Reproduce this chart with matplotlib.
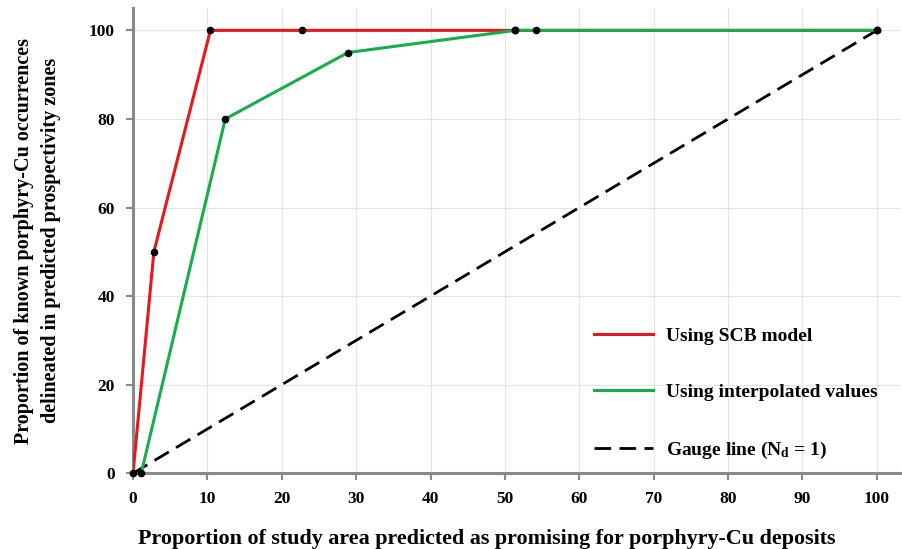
import numpy as np
import matplotlib
matplotlib.use('Agg')
import matplotlib.pyplot as plt

plt.rcParams['font.family'] = ['Liberation Serif', 'DejaVu Serif']
plt.rcParams['font.weight'] = 'bold'
plt.rcParams['mathtext.fontset'] = 'custom'
plt.rcParams['mathtext.rm'] = 'Liberation Serif:bold'
plt.rcParams['mathtext.default'] = 'rm'

# data
scb_x = [0, 2.8, 10.4, 22.7, 51.4, 54.2, 100]
scb_y = [0, 50, 100, 100, 100, 100, 100]
interp_x = [1.1, 12.4, 28.9, 51.4, 100]
interp_y = [0, 80, 95, 100, 100]
gauge_x = [0, 100]
gauge_y = [0, 100]

fig = plt.figure(figsize=(9.02, 5.49), dpi=100)
ax = fig.add_axes([0.1475, 0.138, 0.851, 0.847])

red = '#e8161d'
green = '#19ac4b'

ax.plot(scb_x, scb_y, color=red, lw=2.2, label='Using SCB model', zorder=3)
ax.plot(interp_x, interp_y, color=green, lw=2.2, label='Using interpolated values', zorder=4)
ax.plot(gauge_x, gauge_y, color='black', lw=2.0, dashes=(6, 3),
        label='Gauge line (N$_{\\mathrm{d}}$ = 1)', zorder=3)

ax.plot(scb_x, scb_y, 'o', color='black', ms=4.5, zorder=5, clip_on=False)
ax.plot(interp_x, interp_y, 'o', color='black', ms=4.5, zorder=5, clip_on=False)

ax.set_xlim(0, 103.2)
ax.set_ylim(0, 105)
ax.set_xticks(np.arange(0, 101, 10))
ax.set_yticks(np.arange(0, 101, 20))
ax.grid(True, color='#e4e4e4', lw=0.8)
ax.set_axisbelow(True)

for sp in ['top', 'right']:
    ax.spines[sp].set_visible(False)
for sp in ['bottom', 'left']:
    ax.spines[sp].set_color('#8a8a8a')
    ax.spines[sp].set_linewidth(2.2)

ax.tick_params(axis='both', colors='#8a8a8a', width=1.5, length=5,
               labelsize=12.5, labelcolor='black', pad=8)

ax.set_xlabel('Proportion of study area predicted as promising for porphyry-Cu deposits',
              fontsize=15.8, fontweight='bold')
ax.xaxis.set_label_coords(0.461, -0.12)
ax.set_ylabel('Proportion of known porphyry-Cu occurrences\ndelineated in predicted prospectivity zones',
              fontsize=14.5, fontweight='bold', labelpad=20, linespacing=1.5)

leg = ax.legend(loc='lower left', bbox_to_anchor=(0.578, -0.012), frameon=False,
                fontsize=14, handlelength=3.0, labelspacing=2.0, handletextpad=0.7)

fig.savefig('out.png', dpi=100)
